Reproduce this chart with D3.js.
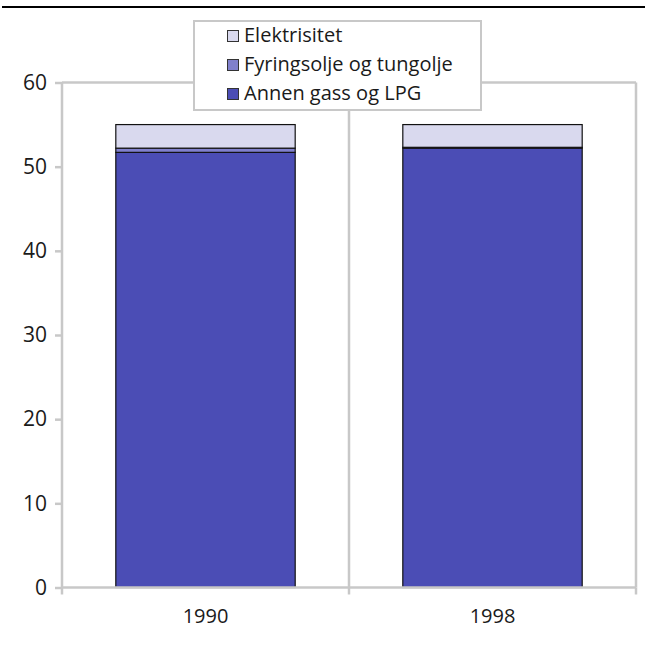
<!DOCTYPE html>
<html>
<head>
<meta charset="utf-8">
<script src="https://cdn.jsdelivr.net/npm/d3@7"></script>
<style>
  html, body { margin: 0; padding: 0; background: #fff; }
  svg { display: block; }
  svg text { font-family: "Open Sans", "Noto Sans", sans-serif; }
</style>
</head>
<body>
<svg id="chart" width="645" height="646"></svg>
<script>
// Years on the category axis
const years = ["1990", "1998"];
// Stacked series, bottom to top
const seriesNames = ["Annen gass og LPG", "Fyringsolje og tungolje", "Elektrisitet"];
const annenGass = [51.7, 52.2];
const fyringsolje = [0.5, 0.1];
const elektrisitet = [2.8, 2.7];
const yTicks = [0, 10, 20, 30, 40, 50, 60];
const colors = ["#4b4db5", "#8080cc", "#d9d9ee"];

const rows = years.map((y, i) => ({
  year: y,
  "Annen gass og LPG": annenGass[i],
  "Fyringsolje og tungolje": fyringsolje[i],
  "Elektrisitet": elektrisitet[i]
}));

const svg = d3.select("#chart");
const plotLeft = 62, plotRight = 636, plotTop = 82.5, plotBottom = 587.5;

const x = d3.scaleBand().domain(years).range([plotLeft, plotRight])
  .paddingInner(0.375).paddingOuter(0.1875);
const y = d3.scaleLinear().domain([0, 60]).range([plotBottom, plotTop]);

const grid = "#c8c8c8";
const textColor = "#1a1a1a";

// Top border of plot area
svg.append("line").attr("x1", plotLeft).attr("x2", plotRight)
  .attr("y1", y(60)).attr("y2", y(60))
  .attr("stroke", grid).attr("stroke-width", 2.5);

// Vertical gridlines at category boundaries
const bounds = [plotLeft, (plotLeft + plotRight) / 2, plotRight];
svg.selectAll(".vgrid").data(bounds.slice(1)).join("line")
  .attr("x1", d => d).attr("x2", d => d)
  .attr("y1", y(60)).attr("y2", plotBottom)
  .attr("stroke", grid).attr("stroke-width", 2.5);

// Stacked bars
const stack = d3.stack().keys(seriesNames)(rows);
svg.append("g").selectAll("g").data(stack).join("g")
  .attr("fill", (d, i) => colors[i])
  .selectAll("rect").data(d => d).join("rect")
  .attr("x", d => x(d.data.year))
  .attr("width", x.bandwidth())
  .attr("y", d => y(d[1]))
  .attr("height", d => y(d[0]) - y(d[1]))
  .attr("stroke", "#111")
  .attr("stroke-width", 1.2);

// Y axis
const yAxis = svg.append("g").attr("transform", `translate(${plotLeft},0)`)
  .call(d3.axisLeft(y).tickValues(yTicks).tickSize(7).tickPadding(8));
yAxis.attr("font-family", null);
yAxis.select(".domain").attr("stroke", grid).attr("stroke-width", 2.5)
  .attr("d", `M0,${y(60)}V${plotBottom}`);
yAxis.selectAll(".tick line").attr("stroke", grid).attr("stroke-width", 2.5);
yAxis.selectAll("text").attr("font-size", 21).attr("fill", textColor);

// X axis
const xAxis = svg.append("g").attr("transform", `translate(0,${plotBottom})`)
  .call(d3.axisBottom(x).tickSize(0).tickPadding(21));
xAxis.attr("font-family", null);
xAxis.select(".domain").attr("stroke", grid).attr("stroke-width", 2.5)
  .attr("d", `M${plotLeft},0H${plotRight}`);
xAxis.selectAll("text").attr("font-size", 20).attr("fill", textColor);
xAxis.selectAll(".btick").data(bounds).join("line")
  .attr("x1", d => d).attr("x2", d => d)
  .attr("y1", 0).attr("y2", 7)
  .attr("stroke", grid).attr("stroke-width", 2.5);

// Rule across the top of the figure
svg.append("line").attr("x1", 2).attr("x2", 645)
  .attr("y1", 7).attr("y2", 7)
  .attr("stroke", "#000").attr("stroke-width", 2);

// Legend (listed top to bottom in reverse stacking order)
const legend = svg.append("g");
legend.append("rect").attr("x", 194).attr("y", 21).attr("width", 287).attr("height", 89)
  .attr("fill", "#fff").attr("stroke", grid).attr("stroke-width", 2);
const legendItems = seriesNames.map((n, i) => ({ name: n, color: colors[i] })).reverse();
const li = legend.selectAll(".li").data(legendItems).join("g")
  .attr("transform", (d, i) => `translate(227,${35 + i * 29})`);
li.append("rect").attr("x", 0.5).attr("y", -4.5).attr("width", 11).attr("height", 11)
  .attr("fill", d => d.color).attr("stroke", "#333").attr("stroke-width", 1);
li.append("text").attr("x", 17).attr("y", 0).attr("dy", "0.35em")
  .attr("font-size", 20).attr("fill", textColor).text(d => d.name);
</script>
</body>
</html>
